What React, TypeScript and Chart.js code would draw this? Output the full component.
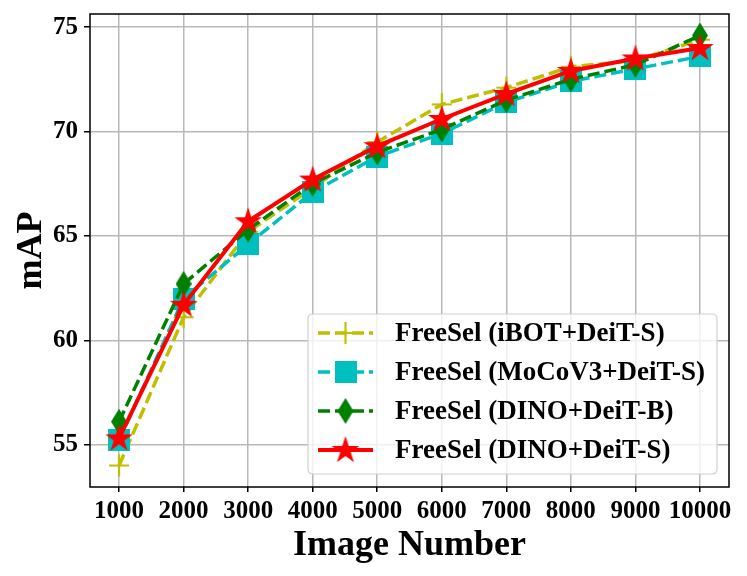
import React, { useEffect, useRef } from "react";
import { Chart, registerables } from "chart.js";

Chart.register(...registerables);

const imageNumbers = [1000, 2000, 3000, 4000, 5000, 6000, 7000, 8000, 9000, 10000];
const ibotDeitS = [54.0, 61.1, 65.2, 67.3, 69.5, 71.3, 72.1, 73.1, 73.4, 74.4];
const mocov3DeitS = [55.2, 62.0, 64.6, 67.1, 68.8, 69.9, 71.4, 72.4, 73.0, 73.6];
const dinoDeitB = [56.1, 62.7, 65.3, 67.5, 69.0, 70.1, 71.5, 72.5, 73.2, 74.6];
const dinoDeitS = [55.3, 61.7, 65.7, 67.7, 69.3, 70.6, 71.8, 72.9, 73.5, 74.0];
const yTicks = [55, 60, 65, 70, 75];
const xTicks = imageNumbers;
const seriesLabels = [
  "FreeSel (iBOT+DeiT-S)",
  "FreeSel (MoCoV3+DeiT-S)",
  "FreeSel (DINO+DeiT-B)",
  "FreeSel (DINO+DeiT-S)",
];

const FONT = "'Liberation Serif', 'Times New Roman', serif";

function makeCanvas(w: number, h: number, draw: (ctx: CanvasRenderingContext2D) => void) {
  const c = document.createElement("canvas");
  c.width = w;
  c.height = h;
  const ctx = c.getContext("2d")!;
  draw(ctx);
  return c;
}

function plusMarker(color: string) {
  return makeCanvas(22, 24, (ctx) => {
    ctx.strokeStyle = color;
    ctx.lineWidth = 2.2;
    ctx.beginPath();
    ctx.moveTo(1, 12);
    ctx.lineTo(21, 12);
    ctx.moveTo(11, 1);
    ctx.lineTo(11, 23);
    ctx.stroke();
  });
}
function squareMarker(color: string) {
  return makeCanvas(22, 22, (ctx) => {
    ctx.fillStyle = color;
    ctx.fillRect(0, 0, 22, 22);
  });
}
function diamondMarker(color: string) {
  return makeCanvas(16, 26, (ctx) => {
    ctx.fillStyle = color;
    ctx.beginPath();
    ctx.moveTo(8, 0);
    ctx.lineTo(16, 13);
    ctx.lineTo(8, 26);
    ctx.lineTo(0, 13);
    ctx.closePath();
    ctx.fill();
  });
}
function starMarker(color: string) {
  return makeCanvas(30, 30, (ctx) => {
    ctx.fillStyle = color;
    const cx = 15, cy = 15.5, R = 14.5, r = 14.5 * 0.382;
    ctx.beginPath();
    for (let i = 0; i < 10; i++) {
      const a = -Math.PI / 2 + (i * Math.PI) / 5;
      const rad = i % 2 === 0 ? R : r;
      const px = cx + rad * Math.cos(a);
      const py = cy + rad * Math.sin(a);
      if (i === 0) ctx.moveTo(px, py);
      else ctx.lineTo(px, py);
    }
    ctx.closePath();
    ctx.fill();
  });
}

const legendPlugin = {
  id: "boxLegend",
  afterDraw(chart: any) {
    const { ctx, chartArea } = chart;
    const w = 409, h = 160;
    const right = chartArea.right - 12;
    const bottom = chartArea.bottom - 13;
    const left = right - w;
    const top = bottom - h;
    ctx.save();
    ctx.beginPath();
    const rr = 5;
    ctx.moveTo(left + rr, top);
    ctx.lineTo(right - rr, top);
    ctx.quadraticCurveTo(right, top, right, top + rr);
    ctx.lineTo(right, bottom - rr);
    ctx.quadraticCurveTo(right, bottom, right - rr, bottom);
    ctx.lineTo(left + rr, bottom);
    ctx.quadraticCurveTo(left, bottom, left, bottom - rr);
    ctx.lineTo(left, top + rr);
    ctx.quadraticCurveTo(left, top, left + rr, top);
    ctx.closePath();
    ctx.fillStyle = "rgba(255,255,255,0.8)";
    ctx.fill();
    ctx.strokeStyle = "#d0d0d0";
    ctx.lineWidth = 1.2;
    ctx.stroke();

    chart.data.datasets.forEach((ds: any, i: number) => {
      const y = top + 19 + i * 39;
      ctx.save();
      ctx.strokeStyle = ds.borderColor;
      ctx.lineWidth = ds.borderWidth;
      ctx.setLineDash(ds.borderDash || []);
      ctx.beginPath();
      ctx.moveTo(left + 10, y);
      ctx.lineTo(left + 65, y);
      ctx.stroke();
      ctx.restore();
      const img = ds.pointStyle as HTMLCanvasElement;
      ctx.drawImage(img, left + 37.5 - img.width / 2, y - img.height / 2);
      ctx.fillStyle = "#000";
      ctx.font = `bold 27px ${FONT}`;
      ctx.textBaseline = "middle";
      ctx.textAlign = "left";
      ctx.fillText(ds.label, left + 87, y + 1);
    });
    ctx.restore();
  },
};

const framePlugin = {
  id: "frame",
  afterDatasetsDraw(chart: any) {
    const { ctx, chartArea } = chart;
    ctx.save();
    ctx.strokeStyle = "#000";
    ctx.lineWidth = 1.5;
    ctx.strokeRect(chartArea.left, chartArea.top, chartArea.right - chartArea.left, chartArea.bottom - chartArea.top);
    ctx.restore();
  },
};

function toPoints(values: number[]) {
  return values.map((v, i) => ({ x: imageNumbers[i], y: v }));
}

export default function App() {
  const canvasRef = useRef<HTMLCanvasElement | null>(null);

  useEffect(() => {
    if (!canvasRef.current) return;
    const chart = new Chart(canvasRef.current, {
      type: "line",
      data: {
        datasets: [
          {
            label: seriesLabels[0],
            data: toPoints(ibotDeitS),
            borderColor: "#bfbf00",
            backgroundColor: "#bfbf00",
            borderWidth: 3.5,
            borderDash: [12, 5],
            pointStyle: plusMarker("#bfbf00") as any,
            pointRadius: 10,
            order: 4,
          },
          {
            label: seriesLabels[1],
            data: toPoints(mocov3DeitS),
            borderColor: "#00bfbf",
            backgroundColor: "#00bfbf",
            borderWidth: 3.5,
            borderDash: [12, 5],
            pointStyle: squareMarker("#00bfbf") as any,
            pointRadius: 10,
            order: 3,
          },
          {
            label: seriesLabels[2],
            data: toPoints(dinoDeitB),
            borderColor: "#008000",
            backgroundColor: "#008000",
            borderWidth: 3.5,
            borderDash: [12, 5],
            pointStyle: diamondMarker("#008000") as any,
            pointRadius: 10,
            order: 2,
          },
          {
            label: seriesLabels[3],
            data: toPoints(dinoDeitS),
            borderColor: "#ff0000",
            backgroundColor: "#ff0000",
            borderWidth: 4,
            pointStyle: starMarker("#ff0000") as any,
            pointRadius: 10,
            order: 1,
          },
        ],
      },
      options: {
        animation: false,
        responsive: true,
        maintainAspectRatio: false,
        layout: { padding: { left: 0, right: 18, top: 12, bottom: 0 } },
        plugins: { legend: { display: false }, tooltip: { enabled: false } },
        elements: { line: { tension: 0 } },
        scales: {
          x: {
            type: "linear",
            min: 550,
            max: 10450,
            afterBuildTicks: (scale: any) => {
              scale.ticks = xTicks.map((v) => ({ value: v }));
            },
            afterFit: (scale: any) => {
              scale.height = 89;
              scale.paddingLeft = 0;
              scale.paddingRight = 0;
            },
            ticks: {
              autoSkip: false,
              maxRotation: 0,
              color: "#000",
              padding: 5,
              font: { family: FONT, size: 25, weight: "bold" },
              callback: (v: any) => String(v),
            },
            grid: { color: "#b8b8b8", lineWidth: 1.5, tickLength: 5, tickColor: "#000", tickWidth: 1.5 },
            border: { display: false },
            title: {
              display: true,
              text: "Image Number",
              color: "#000",
              font: { family: FONT, size: 36, weight: "bold" },
              padding: { top: 0, bottom: 9 },
            },
          },
          y: {
            type: "linear",
            min: 52.97,
            max: 75.63,
            afterBuildTicks: (scale: any) => {
              scale.ticks = yTicks.map((v) => ({ value: v }));
            },
            afterFit: (scale: any) => {
              scale.width = 90;
              scale.paddingTop = 0;
              scale.paddingBottom = 0;
            },
            ticks: {
              color: "#000",
              padding: 6,
              font: { family: FONT, size: 25, weight: "bold" },
              callback: (v: any) => String(v),
            },
            grid: { color: "#b8b8b8", lineWidth: 1.5, tickLength: 6, tickColor: "#000", tickWidth: 1.5 },
            border: { display: false },
            title: {
              display: true,
              text: "mAP",
              color: "#000",
              font: { family: FONT, size: 36, weight: "bold" },
              padding: { top: 10, bottom: 0 },
            },
          },
        },
      } as any,
      plugins: [framePlugin, legendPlugin],
    });
    return () => chart.destroy();
  }, []);

  return (
    <div style={{ position: "fixed", left: 0, top: 0, width: 747, height: 576, background: "#fff" }}>
      <canvas ref={canvasRef} style={{ display: "block" }} />
    </div>
  );
}
